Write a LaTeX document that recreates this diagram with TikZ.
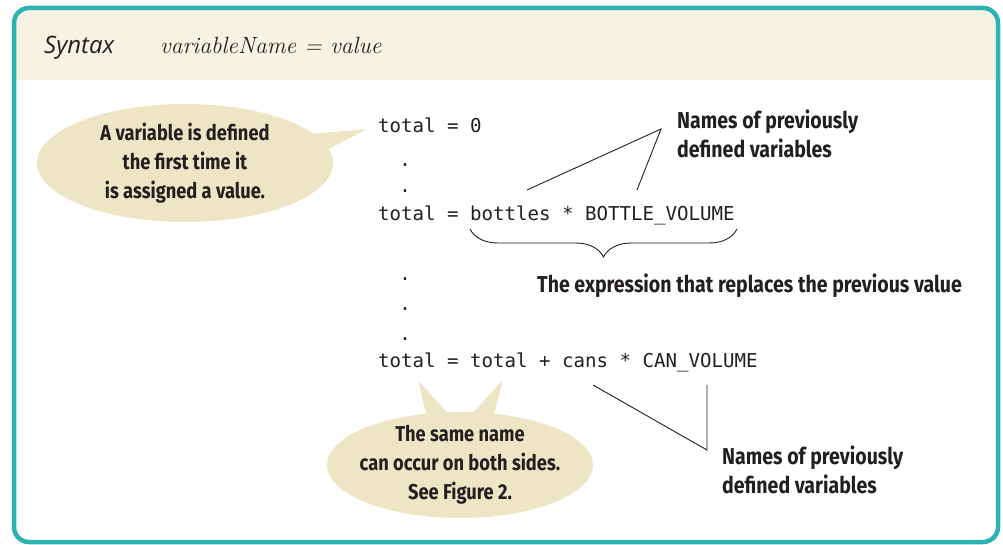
\documentclass[tikz,border=0pt]{standalone}
\usepackage{fontspec}
\usetikzlibrary{decorations.pathreplacing,shapes.geometric}
\newfontfamily\codefont{DejaVu Sans Mono}
\newfontfamily\handfont[FakeStretch=0.85]{Fira Sans Bold}
\newfontfamily\synfont{Open Sans}
\definecolor{teal}{HTML}{2DB3B1}
\definecolor{headbg}{HTML}{F6F2E4}
\definecolor{bubblecol}{HTML}{EEE5C5}
\definecolor{ink}{HTML}{231F20}
\tikzset{
  code/.style={font=\codefont\fontsize{19.1}{22}\selectfont, text=ink, anchor=base west, inner sep=0},
  dotnode/.style={font=\codefont\fontsize{19.1}{22}\selectfont, text=ink, anchor=base, inner sep=0},
  hand/.style={font=\handfont\fontsize{23}{29}\selectfont, text=ink, inner sep=0},
  bubble/.style={ellipse, fill=bubblecol, inner sep=0},
  bubbletext/.style={font=\handfont\fontsize{21.5}{29}\selectfont, text=ink, inner sep=0, align=center},
  leader/.style={draw=ink, line width=0.9pt},
}
\begin{document}
\begin{tikzpicture}[x=1pt,y=-1pt]
\useasboundingbox (0,0) rectangle (1003,545);
% frame
\fill[headbg, rounded corners=14] (14,8) -- (998,8) -- (998,80) -- (14,80) -- cycle;
\fill[headbg] (14,40) rectangle (998,80);
\draw[teal, line width=4.5pt, rounded corners=15] (14,8) rectangle (998,542);
% header
\node[font=\synfont\itshape\fontsize{24}{28}\selectfont, text=ink, anchor=base west, inner sep=0] (syn) at (44,54) {Syntax};
\node[font=\itshape\fontsize{23.5}{28}\selectfont, text=ink, anchor=base west, inner sep=0] (form) at (160,54) {variableName = value};
% code
\node[code] (l1) at (378,133) {total = 0};
\node[dotnode] (d1) at (405,167) {.};
\node[dotnode] (d2) at (405,193) {.};
\node[code] (l2) at (378,221) {total = bottles * BOTTLE\_VOLUME};
\node[dotnode] (d3) at (405,280) {.};
\node[dotnode] (d4) at (405,310) {.};
\node[dotnode] (d5) at (405,340) {.};
\node[code] (l3) at (378,367) {total = total + cans * CAN\_VOLUME};
% brace
\coordinate (bl) at (470,229);
\coordinate (br) at (737,229);
\draw[ink, line width=0.9pt, decorate, decoration={brace, mirror, amplitude=28pt, aspect=0.5}] (bl) -- (br);
\node[hand, anchor=base west] (expr) at (537,292) {The expression that replaces the previous value};
% top names
\node[hand, anchor=north west, align=left] (names1) at (677,110) {Names of previously\\defined variables};
\coordinate (apex1) at (661,129);
\coordinate (e1a) at (527,190);
\coordinate (e1b) at (637,190);
\draw[leader] (e1a) -- (apex1) -- (e1b);
% bottom names
\node[hand, anchor=north west, align=left] (names2) at (722,446) {Names of previously\\defined variables};
\coordinate (e2a) at (593,385);
\coordinate (apex2) at (707,450);
\coordinate (e2b) at (707,385);
\draw[leader] (e2a) -- (apex2) -- (e2b);
% bubble 1
\fill[bubblecol] (310,134) -- (367,129) -- (325,151) -- cycle;
\node[bubble, minimum width=296pt, minimum height=118pt] (b1) at (185,163) {};
\node[bubbletext] (t1) at (b1.center) {A variable is defined\\the first time it\\is assigned a value.};
% bubble 2
\fill[bubblecol] (428,422) -- (418,380) -- (452,418) -- (468,418) -- (503,380) -- (492,422) -- cycle;
\node[bubble, minimum width=266pt, minimum height=106pt] (b2) at (460,465) {};
\node[bubbletext] (t2) at (b2.center) {The same name\\can occur on both sides.\\See Figure 2.};
\end{tikzpicture}
\end{document}
